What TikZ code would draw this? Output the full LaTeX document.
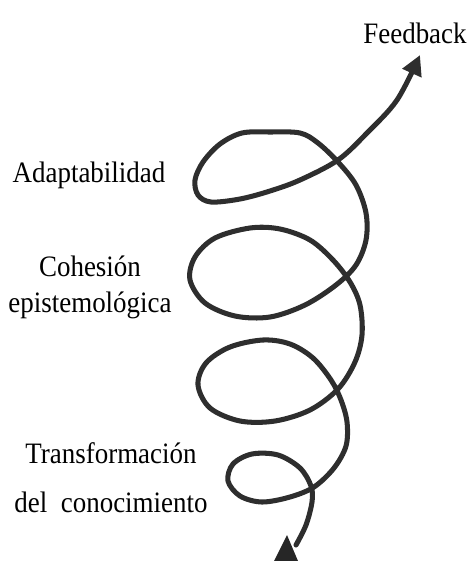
\documentclass[tikz,border=0pt]{standalone}
\usepackage{fontspec}
\setmainfont{Liberation Serif}
\usetikzlibrary{arrows.meta}

\begin{document}
\begin{tikzpicture}[
    x=0.03cm, y=-0.03cm,
    spirale/.style={draw=black!82, line width=4.3pt, line cap=round, line join=round},
    spitze/.style={fill=black!85, draw=none},
    beschriftung/.style={font=\fontsize{23}{28}\selectfont, inner sep=0pt, align=center,
      transform shape, yscale=1.1}
  ]
  \useasboundingbox (0,0) rectangle (470,561);

  % ---------- Spirale von unten nach oben ----------
  % Schleifen (unten -> oben): D, C, B, A; danach Pfeil zu "Feedback"
  \draw[spirale, -{Triangle[length=17pt, width=17pt]}]
    plot[smooth, tension=0.55] coordinates {
      (296,545) (306,525) (312,502) (311,486) (300,468) (278,455) (252,454)
      (233,464) (228,481) (240,496) (262,502) (290,497) (314,487)
      (334,468) (346,446) (347,422) (341,400) (331,380) (313,358) (290,344)
      (263,340) (230,347) (206,363) (198,385) (210,408) (240,421) (275,421)
      (310,410) (338,389) (355,362) (362,335) (360,305) (350,282) (333,260)
      (310,240) (280,229) (250,228) (215,238) (195,257) (190,280) (205,303)
      (235,316) (270,317) (305,305) (336,285) (356,265) (366,240) (366,213)
      (356,185) (338,162) (318,143) (300,133) (270,132) (242,133) (220,144)
      (203,162) (195,180) (198,195) (211,202) (240,199) (270,191) (300,180)
      (338,160) (367,133) (397,100) (420,55)
    };
  % Pfeilspitze am unteren Ende (vom Rand abgeschnitten)
  \fill[spitze] (287,535) -- (298,561) -- (274,561) -- cycle;

  % ---------- Beschriftungen ----------
  \node[beschriftung, anchor=base] (feedback) at (415,43) {Feedback};
  \node[beschriftung, anchor=base] (adapt) at (89,182) {Adaptabilidad};
  \node[beschriftung] (kohaesion) at (90,287) {Cohesión\\epistemológica};
  \node[beschriftung] (trans) at (111,478)
    {Transformación\\[10pt]del\ \ conocimiento};
\end{tikzpicture}
\end{document}
